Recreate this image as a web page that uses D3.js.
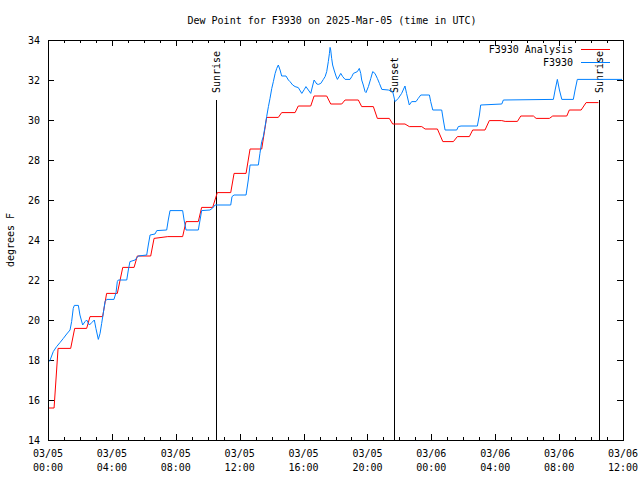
<!DOCTYPE html>
<html><head><meta charset="utf-8">
<script src="https://cdn.jsdelivr.net/npm/d3@7/dist/d3.min.js"></script>
<style>
body{margin:0;background:#fff;}
text{font-family:"DejaVu Sans Mono",monospace;font-size:10px;fill:#000;}
</style></head><body>
<svg id="c" width="640" height="480"></svg>
<script>
const titleText = "Dew Point for F3930 on 2025-Mar-05 (time in UTC)";
const yLabel = "degrees F";
const seriesNames = ["F3930 Analysis", "F3930"];
const seriesColors = ["#ff0000", "#0080ff"];

// hours since 03/05 00:00 UTC
const analysisHours = [0,0.38,0.63,1.42,1.67,2.42,2.63,3.42,3.67,4.34,4.68,5.39,5.59,6.43,6.64,7.5,8.43,8.64,9.41,9.62,10.31,10.6,11.44,11.65,12.4,12.65,13.38,13.69,14.42,14.63,15.47,15.67,16.45,16.66,17.45,17.7,18.39,18.6,19.43,19.64,20.37,20.62,21.37,21.58,22.35,22.62,23.4,23.61,24.38,24.72,25.38,25.63,26.38,26.59,27.36,27.63,28.41,28.62,29.39,29.6,30.39,30.56,31.39,31.6,32.48,32.64,33.38,33.69,34.46];
const analysisValues = [15.6,15.6,18.58,18.58,19.58,19.58,20.17,20.17,21.33,21.33,22.63,22.63,23.2,23.2,24.08,24.17,24.17,24.92,24.92,25.63,25.63,26.37,26.37,27.33,27.33,28.55,28.55,30.13,30.13,30.37,30.37,30.7,30.7,31.2,31.2,30.8,30.8,31.0,31.0,30.67,30.67,30.08,30.08,29.8,29.8,29.67,29.67,29.55,29.55,28.92,28.92,29.17,29.17,29.5,29.5,29.97,29.97,29.93,29.93,30.2,30.2,30.08,30.08,30.2,30.2,30.5,30.5,30.87,30.87];

const obsHours = [0.1,0.33,0.54,0.75,0.96,1.17,1.38,1.48,1.58,1.65,1.9,2.0,2.17,2.32,2.42,2.59,2.74,2.9,3.0,3.15,3.26,3.36,3.46,3.57,3.68,4.13,4.26,4.34,4.4,4.93,5.03,5.13,5.45,5.65,6.18,6.28,6.39,6.7,6.81,7.43,7.53,7.64,8.43,8.52,8.64,9.41,9.52,9.62,10.14,10.31,10.46,11.44,11.52,11.65,12.4,12.54,12.65,13.17,13.27,13.38,13.48,13.59,13.69,13.8,13.9,14.01,14.11,14.22,14.32,14.42,14.53,14.63,14.9,15.05,15.15,15.32,15.47,15.67,15.89,16.05,16.15,16.3,16.45,16.58,16.66,16.83,16.93,17.08,17.24,17.35,17.45,17.55,17.62,17.66,17.7,17.76,17.82,17.91,18.03,18.12,18.24,18.33,18.45,18.6,18.91,19.02,19.12,19.37,19.49,19.58,19.64,19.74,19.85,19.91,20.06,20.21,20.33,20.47,20.62,20.75,20.9,21.31,21.58,21.73,21.93,22.14,22.35,22.45,22.62,22.77,23.04,23.18,23.34,23.88,23.96,24.09,24.65,24.75,24.86,25.59,25.69,25.86,26.88,27.01,27.09,28.41,28.51,31.64,31.75,31.89,32.02,32.17,32.89,33.0,33.14,35.94];
const obsValues = [17.93,18.42,18.67,18.87,19.08,19.3,19.5,19.92,20.58,20.73,20.73,20.25,19.75,19.92,20.0,19.75,19.87,20.0,19.58,19.03,19.33,19.83,20.33,20.92,21.03,21.03,21.37,21.92,22.0,22.0,22.5,22.92,23.0,23.2,23.25,23.75,24.25,24.3,24.47,24.5,25.0,25.47,25.47,25.0,24.5,24.5,25.0,25.47,25.5,25.6,25.75,25.75,26.17,26.25,26.25,27.0,27.75,27.75,28.33,28.92,29.17,29.67,30.17,30.67,31.08,31.58,31.92,32.33,32.58,32.75,32.5,32.2,32.2,32.0,31.92,31.75,31.67,31.62,31.33,31.53,31.67,31.5,31.33,31.75,32.0,31.8,31.78,31.83,32.03,32.17,32.42,32.92,33.33,33.63,33.5,33.08,32.75,32.5,32.2,32.03,32.2,32.33,32.17,32.03,32.03,32.17,32.33,32.42,32.58,32.33,32.0,31.75,31.42,31.37,31.67,32.08,32.42,32.33,32.08,31.83,31.53,31.5,31.42,30.92,31.08,31.33,31.7,31.33,30.75,30.92,30.92,31.08,31.25,31.25,30.92,30.5,30.5,30.0,29.5,29.5,29.67,29.7,29.7,30.25,30.75,30.8,31.0,31.03,31.5,32.03,31.5,31.03,31.03,31.5,32.03,32.03];

const sunHours = [10.52, 21.67, 34.5];
const sunLabels = ["Sunrise", "Sunset", "Sunrise"];
const sunTop = 31;

const xTickHours = [0,4,8,12,16,20,24,28,32,36];
const xTickDates = ["03/05","03/05","03/05","03/05","03/05","03/05","03/06","03/06","03/06","03/06"];
const xTickTimes = ["00:00","04:00","08:00","12:00","16:00","20:00","00:00","04:00","08:00","12:00"];
const yTicks = [14,16,18,20,22,24,26,28,30,32,34];

const W = 640, H = 480;
const m = {left:48, right:17, top:40, bottom:40};
const svg = d3.select("#c");
const x = d3.scaleLinear().domain([0,36]).range([m.left, W - m.right]);
const y = d3.scaleLinear().domain([14,34]).range([H - m.bottom, m.top]);

svg.append("text").attr("x", 332).attr("y", 24).attr("text-anchor","middle").text(titleText);
svg.append("text").attr("transform","translate(14,240) rotate(-90)").attr("text-anchor","middle").text(yLabel);

const minorHours = d3.range(0,37,1);
const g = svg.append("g").attr("shape-rendering","crispEdges").attr("stroke","#000").attr("stroke-width",1);
minorHours.forEach(h => {
  const len = (h % 4 === 0) ? 6 : 3;
  const xx = Math.round(x(h)) + 0.5;
  g.append("line").attr("x1",xx).attr("x2",xx).attr("y1",H-m.bottom).attr("y2",H-m.bottom-len);
  g.append("line").attr("x1",xx).attr("x2",xx).attr("y1",m.top).attr("y2",m.top+len);
});
yTicks.forEach(v => {
  const yy = Math.round(y(v)) + 0.5;
  g.append("line").attr("x1",m.left).attr("x2",m.left+6).attr("y1",yy).attr("y2",yy);
  g.append("line").attr("x1",W-m.right).attr("x2",W-m.right-6).attr("y1",yy).attr("y2",yy);
  svg.append("text").attr("x", 40).attr("y", y(v)).attr("dy","0.35em").attr("text-anchor","end").text(v);
});
xTickHours.forEach((h,i) => {
  svg.append("text").attr("x", x(h)).attr("y", 457).attr("text-anchor","middle").text(xTickDates[i]);
  svg.append("text").attr("x", x(h)).attr("y", 471).attr("text-anchor","middle").text(xTickTimes[i]);
});

sunHours.forEach((h,i) => {
  const xx = Math.round(x(h)) + 0.5;
  g.append("line").attr("x1",xx).attr("x2",xx).attr("y1",y(14)).attr("y2",y(sunTop));
  svg.append("text").attr("transform",`translate(${xx},${y(sunTop)-7}) rotate(-90)`)
    .attr("dy","0.35em").attr("text-anchor","start").text(sunLabels[i]);
});

const line = d3.line().x(d => x(d[0])).y(d => y(d[1]));
const a = analysisHours.map((h,i) => [h, analysisValues[i]]);
const o = obsHours.map((h,i) => [h, obsValues[i]]);
svg.append("path").datum(a).attr("d", line).attr("fill","none").attr("stroke",seriesColors[0]).attr("stroke-width",1);
svg.append("path").datum(o).attr("d", line).attr("fill","none").attr("stroke",seriesColors[1]).attr("stroke-width",1);

[0,1].forEach(i => {
  const ly = 49 + i*13;
  svg.append("text").attr("x", 573).attr("y", ly).attr("dy","0.35em").attr("text-anchor","end").text(seriesNames[i]);
  svg.append("line").attr("x1",581).attr("x2",610).attr("y1",ly+0.5).attr("y2",ly+0.5)
    .attr("stroke",seriesColors[i]).attr("stroke-width",1).attr("shape-rendering","crispEdges");
});

svg.append("rect").attr("x",m.left+0.5).attr("y",m.top+0.5).attr("width",W-m.left-m.right).attr("height",H-m.top-m.bottom)
  .attr("fill","none").attr("stroke","#000").attr("shape-rendering","crispEdges");
</script>
</body></html>
